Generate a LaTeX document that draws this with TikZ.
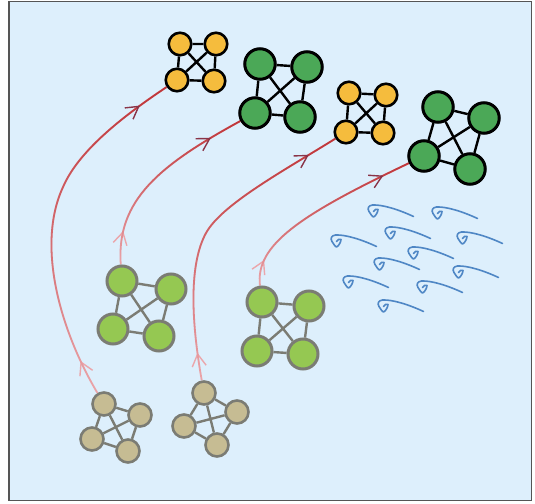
\documentclass[tikz,border=0pt]{standalone}
\usetikzlibrary{arrows.meta,decorations.markings,fadings}
\definecolor{bgblue}{HTML}{DDEFFC}
\definecolor{frame}{HTML}{555555}
\definecolor{cyellow}{HTML}{F5BC3D}
\definecolor{cdgreen}{HTML}{4BA857}
\definecolor{clgreen}{HTML}{95C852}
\definecolor{ctan}{HTML}{C6BC93}
\definecolor{cgrey}{HTML}{7B7C74}
\definecolor{cswirl}{HTML}{4F87C5}
\definecolor{cred}{HTML}{BE3539}
\definecolor{cpink}{HTML}{EBA6AB}
\definecolor{cdarkarr}{HTML}{8A3448}
\tikzfading[name=upfade, top color=transparent!0, middle color=transparent!20, bottom color=transparent!100]
\pgfdeclarelayer{bglayer}
\pgfdeclarelayer{edgelayer}
\pgfsetlayers{bglayer,edgelayer,main}
\newcommand\pathA{(t1) .. controls (60,330) and (36,245) .. (ca) .. controls (78,152) and (120,118) .. (a3)}
\newcommand\pathB{(e1) .. controls (116,200) and (160,165) .. (b3)}
\newcommand\pathC{(m1) .. controls (191,320) and (189,264) .. (cc) .. controls (222,204) and (285,170) .. (c3)}
\newcommand\pathD{(f1) .. controls (255,245) and (300,215) .. (d3)}
\begin{document}
\begin{tikzpicture}[x=1pt,y=-1pt,
  ycirc/.style={circle,draw=black,line width=2.6pt,fill=cyellow,minimum size=22.5pt,inner sep=0pt},
  gcirc/.style={circle,draw=black,line width=3pt,fill=cdgreen,minimum size=30.5pt,inner sep=0pt},
  lcirc/.style={circle,draw=cgrey,line width=3pt,fill=clgreen,minimum size=30pt,inner sep=0pt},
  tcirc/.style={circle,draw=cgrey,line width=2.6pt,fill=ctan,minimum size=23pt,inner sep=0pt},
  darkedge/.style={draw=black,line width=2.4pt},
  greyedge/.style={draw=cgrey,line width=2.4pt},
  pinkcurve/.style={draw=cpink,line width=1.8pt},
  redcurve/.style={draw=cred,line width=1.8pt},
  lowarr/.style={postaction={decorate,decoration={markings,mark=at position #1 with {\arrow{Straight Barb[angle=60:14pt,line width=1.4pt,color=cpink]}}}}},
  uparr/.style={postaction={decorate,decoration={markings,mark=at position #1 with {\arrow{Straight Barb[angle=60:14pt,line width=1.4pt,color=cdarkarr]}}}}},
  swirlline/.style={draw=cswirl,line width=1.6pt,line cap=round,line join=round},
  swirl/.pic={\draw[swirlline] (45,9) .. controls (30,2) and (14,-3) .. (4,-2.5) .. controls (0,-2) and (-1.5,1) .. (0.5,4) .. controls (2,6.5) and (4,9.5) .. (5,9.5) .. controls (7.5,8.5) and (9.5,4) .. (9.5,2) .. controls (8,1) and (6,2) .. (5,4);}
]
\useasboundingbox (0,0) rectangle (535,503);
\begin{pgfonlayer}{bglayer}
  \fill[white] (0,0) rectangle (535,503);
  \draw[fill=bgblue,draw=frame,line width=1.5pt] (9,1.5) rectangle (531.5,500.5);
\end{pgfonlayer}

% top yellow cluster
\node[ycirc] (a1) at (180,44) {};
\node[ycirc] (a2) at (216,44) {};
\node[ycirc] (a3) at (177,80) {};
\node[ycirc] (a4) at (214,81) {};
% top green cluster
\node[gcirc] (b1) at (260,64) {};
\node[gcirc] (b2) at (307,67) {};
\node[gcirc] (b3) at (255,113) {};
\node[gcirc] (b4) at (300,117) {};
% second yellow cluster
\node[ycirc] (c1) at (349,93) {};
\node[ycirc] (c2) at (386,95) {};
\node[ycirc] (c3) at (346,132) {};
\node[ycirc] (c4) at (383,133) {};
% second green cluster
\node[gcirc] (d1) at (438,107) {};
\node[gcirc] (d2) at (484,118) {};
\node[gcirc] (d3) at (424,156) {};
\node[gcirc] (d4) at (470,169) {};
% light green left
\node[lcirc] (e1) at (122,281) {};
\node[lcirc] (e2) at (171,289) {};
\node[lcirc] (e3) at (113,329) {};
\node[lcirc] (e4) at (159,336) {};
% light green middle
\node[lcirc] (f1) at (262,302) {};
\node[lcirc] (f2) at (309,306) {};
\node[lcirc] (f3) at (257,351) {};
\node[lcirc] (f4) at (303,354) {};
% tan left
\node[tcirc] (t1) at (104,404) {};
\node[tcirc] (t2) at (140,415) {};
\node[tcirc] (t3) at (92,439) {};
\node[tcirc] (t4) at (128,451) {};
% tan middle
\node[tcirc] (m1) at (204,393) {};
\node[tcirc] (m2) at (237,412) {};
\node[tcirc] (m3) at (184,426) {};
\node[tcirc] (m4) at (217,445) {};

\coordinate (ca) at (63,187);
\coordinate (cc) at (206,233);

\begin{pgfonlayer}{edgelayer}
  \foreach \c/\s in {a/darkedge,b/darkedge,c/darkedge,d/darkedge,e/greyedge,f/greyedge,t/greyedge,m/greyedge}{
    \draw[\s] (\c1) -- (\c2) -- (\c4) -- (\c3) -- (\c1) (\c1) -- (\c4) (\c2) -- (\c3);
  }
  \draw[pinkcurve,lowarr=0.1] \pathA;
  \draw[redcurve,path fading=upfade] \pathA;
  \path[uparr=0.91] \pathA;
  \draw[pinkcurve,lowarr=0.17] \pathB;
  \draw[redcurve,path fading=upfade] \pathB;
  \path[uparr=0.83] \pathB;
  \draw[pinkcurve,lowarr=0.09] \pathC;
  \draw[redcurve,path fading=upfade] \pathC;
  \path[uparr=0.9] \pathC;
  \draw[pinkcurve,lowarr=0.13] \pathD;
  \draw[redcurve,path fading=upfade] \pathD;
  \path[uparr=0.86] \pathD;
\end{pgfonlayer}

% swirls
\foreach \p in {(368.5,207.5),(432.5,209.5),(385.5,229.5),(331.5,237.5),(457.5,234.5),(408.5,249.5),(374.5,260.5),(453.5,268.5),(343.5,278.5),(417.5,283.5),(378.5,302.5)}{
  \pic at \p {swirl};
}
\end{tikzpicture}
\end{document}
